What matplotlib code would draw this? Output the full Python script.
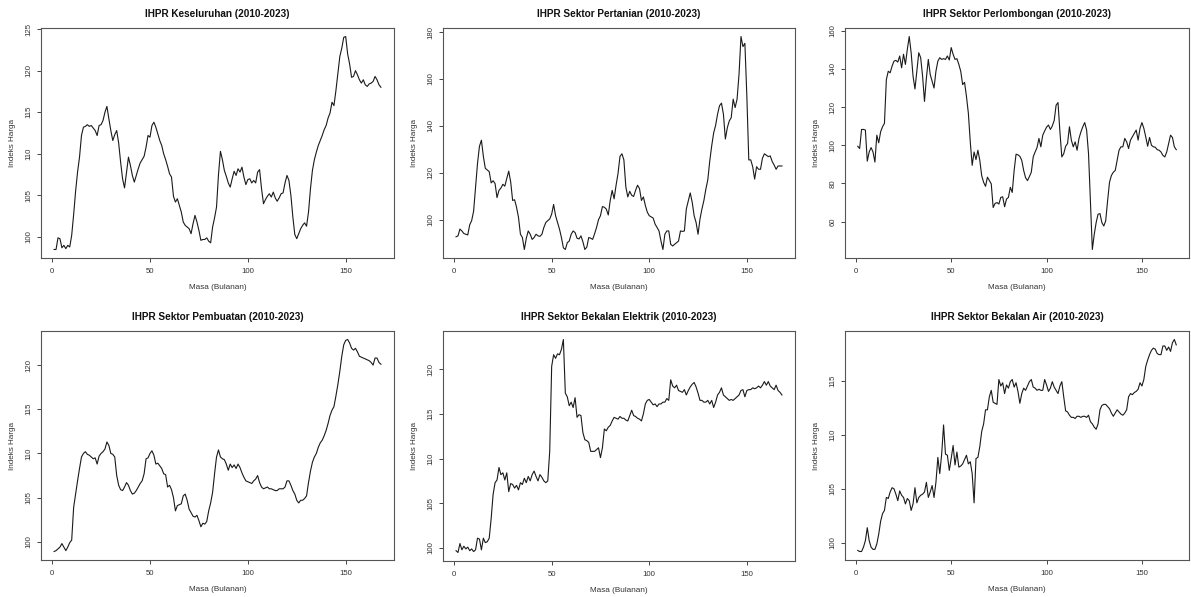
import numpy as np
import matplotlib
matplotlib.use("Agg")
import matplotlib.pyplot as plt
from matplotlib.ticker import MultipleLocator

plt.rcParams['font.family'] = ['Liberation Sans', 'DejaVu Sans']

# indeks bulan 1..168 (Jan 2010 - Dis 2023)
bulan = np.arange(1, 169)

keseluruhan = [
    98.5, 98.5, 99.9, 99.8, 98.7, 99.0, 98.6, 99.0, 98.8, 100.2, 102.7, 105.5,
    107.8, 109.6, 112.2, 113.2, 113.3, 113.5, 113.3, 113.4, 113.1, 112.8, 112.2, 113.4,
    113.5, 114.0, 115.0, 115.7, 114.2, 112.8, 111.6, 112.3, 112.8, 111.3, 109.0, 107.0,
    105.9, 107.8, 109.6, 108.6, 107.4, 106.6, 107.4, 108.2, 108.9, 109.3, 109.7, 110.8,
    112.2, 112.0, 113.4, 113.8, 113.2, 112.4, 111.6, 111.0, 110.0, 109.3, 108.5, 107.6,
    107.2, 104.9, 104.2, 104.6, 103.8, 103.0, 101.8, 101.4, 101.2, 101.0, 100.4, 101.6,
    102.6, 101.8, 100.8, 99.6, 99.7, 99.7, 99.9, 99.5, 99.3, 101.2, 102.3, 103.6,
    107.5, 110.3, 109.3, 108.0, 107.3, 106.5, 106.0, 107.0, 107.9, 107.4, 108.2, 107.8,
    108.4, 107.2, 106.3, 106.9, 107.0, 106.5, 106.8, 106.5, 107.8, 108.1, 105.8, 104.0,
    104.5, 104.9, 105.2, 104.8, 105.4, 104.7, 104.3, 104.7, 105.2, 105.3, 106.5, 107.4,
    106.8, 105.0, 102.4, 100.3, 99.8, 100.4, 101.0, 101.4, 101.7, 101.3, 103.0, 105.8,
    108.0, 109.3, 110.2, 111.0, 111.6, 112.2, 112.9, 113.4, 114.3, 114.9, 116.2, 115.8,
    117.6, 119.6, 121.7, 122.7, 124.0, 124.1, 122.0, 120.8, 119.2, 119.3, 120.0, 119.5,
    118.9, 118.5, 118.9, 118.3, 118.1, 118.4, 118.5, 118.7, 119.3, 118.9, 118.3, 118.0,
]

pertanian = [
    92.7, 93.1, 96.0, 95.2, 94.1, 93.8, 93.5, 97.8, 99.6, 103.6, 114.0, 124.0,
    131.3, 133.9, 127.0, 121.9, 121.2, 120.5, 115.7, 116.6, 115.4, 109.4, 112.5, 113.5,
    115.1, 114.3, 117.6, 120.7, 116.1, 108.2, 108.5, 105.3, 101.0, 93.8, 92.4, 87.3,
    92.1, 95.2, 93.8, 91.6, 92.4, 93.8, 93.1, 92.9, 93.8, 96.7, 98.8, 99.6,
    100.3, 102.4, 106.5, 101.7, 98.8, 96.0, 92.4, 88.0, 87.3, 90.2, 90.9, 93.8,
    95.2, 94.5, 92.1, 91.8, 93.1, 90.6, 87.3, 88.3, 92.4, 92.1, 91.6, 94.0,
    96.7, 100.0, 101.7, 105.6, 105.3, 104.5, 102.0, 108.2, 112.5, 108.9, 114.7, 119.7,
    127.0, 128.1, 125.5, 114.0, 109.7, 112.1, 110.4, 109.9, 112.5, 114.7, 113.3, 108.2,
    109.7, 106.1, 103.2, 101.7, 101.2, 100.7, 98.1, 96.7, 95.2, 90.9, 87.3, 93.8,
    95.2, 95.2, 89.5, 88.8, 89.5, 90.2, 90.9, 95.2, 95.0, 95.2, 104.6, 108.0,
    111.4, 107.5, 101.7, 98.8, 93.8, 100.3, 104.6, 108.2, 113.0, 117.0, 125.0, 131.5,
    137.0, 140.2, 145.0, 148.6, 149.7, 145.0, 134.4, 139.2, 142.1, 143.5, 151.4, 147.8,
    151.4, 162.0, 178.1, 173.8, 175.2, 152.9, 125.5, 125.5, 122.6, 117.3, 122.6, 121.5,
    121.5, 126.2, 128.1, 127.5, 126.9, 127.2, 124.8, 123.3, 121.5, 122.9, 122.9, 122.9,
]

perlombongan = [
    99.5, 98.3, 108.3, 108.3, 108.0, 91.7, 96.5, 98.8, 96.5, 91.2, 105.3, 101.3,
    107.1, 109.7, 111.5, 134.4, 138.8, 138.0, 141.5, 144.1, 144.5, 143.6, 146.8, 140.6,
    147.7, 142.4, 150.3, 157.0, 148.5, 136.2, 129.5, 138.8, 148.5, 145.9, 136.2, 123.0,
    135.3, 145.0, 137.1, 133.5, 130.0, 138.8, 144.1, 145.9, 145.0, 145.4, 145.0, 146.8,
    144.7, 151.2, 147.7, 145.0, 145.4, 142.4, 138.8, 131.8, 133.0, 125.6, 116.8, 101.8,
    89.5, 96.5, 92.5, 97.4, 92.1, 84.0, 80.6, 78.5, 83.3, 81.5, 79.8, 67.4,
    69.5, 70.0, 69.2, 72.7, 73.0, 67.8, 71.8, 72.7, 78.0, 75.3, 86.8, 95.3,
    95.0, 94.2, 92.1, 86.8, 83.0, 81.5, 83.6, 85.9, 93.9, 96.5, 98.8, 103.6,
    99.2, 105.3, 107.5, 109.5, 110.6, 108.3, 110.1, 113.0, 121.0, 122.4, 107.1, 93.9,
    95.6, 99.5, 100.9, 109.7, 102.7, 99.2, 101.8, 97.4, 103.6, 107.0, 109.7, 111.9,
    108.0, 95.6, 70.9, 45.4, 53.3, 59.5, 63.9, 64.2, 59.5, 57.7, 60.4, 70.9,
    80.6, 84.2, 85.9, 86.8, 92.1, 97.4, 99.2, 99.2, 103.6, 101.8, 98.3, 102.7,
    104.5, 106.2, 108.0, 102.7, 108.9, 111.9, 108.9, 104.4, 99.5, 104.1, 100.0, 99.2,
    99.0, 97.7, 97.4, 96.5, 94.7, 93.9, 96.5, 100.9, 105.3, 104.1, 99.2, 97.7,
]

pembuatan = [
    98.9, 99.0, 99.2, 99.4, 99.8, 99.4, 99.0, 99.4, 99.9, 100.2, 103.9, 105.4,
    106.9, 108.3, 109.6, 110.0, 110.2, 109.9, 109.8, 109.6, 109.4, 109.5, 108.8, 109.7,
    110.0, 110.2, 110.5, 111.3, 110.9, 110.0, 109.9, 109.6, 107.5, 106.4, 105.9, 105.8,
    106.2, 106.7, 106.4, 105.8, 105.4, 105.5, 105.8, 106.2, 106.6, 106.9, 107.7, 109.4,
    109.5, 110.0, 110.3, 109.8, 108.8, 108.9, 108.6, 108.3, 107.7, 107.6, 106.2, 106.4,
    105.9, 105.0, 103.5, 104.1, 104.2, 104.3, 105.2, 105.4, 104.7, 103.7, 103.3, 102.9,
    102.8, 103.0, 102.4, 101.7, 102.1, 102.0, 102.3, 103.5, 104.4, 105.6, 107.7, 109.6,
    110.4, 109.6, 109.4, 109.3, 108.8, 108.1, 108.8, 108.4, 108.7, 108.3, 108.8, 108.4,
    107.8, 107.3, 106.9, 106.8, 106.7, 106.6, 106.9, 107.1, 107.5, 106.7, 106.2, 106.0,
    106.1, 106.2, 106.0, 106.0, 105.9, 105.8, 105.8, 106.0, 106.0, 106.0, 106.2, 106.9,
    106.9, 106.4, 105.8, 105.4, 104.7, 104.4, 104.7, 104.7, 104.9, 105.2, 106.7, 108.0,
    109.0, 109.6, 110.0, 110.7, 111.2, 111.5, 112.0, 112.6, 113.4, 114.3, 114.9, 115.3,
    116.5, 117.8, 119.3, 121.0, 122.3, 122.8, 122.9, 122.5, 121.9, 121.7, 121.9, 121.5,
    121.0, 120.9, 120.8, 120.7, 120.6, 120.5, 120.3, 120.0, 120.8, 120.8, 120.3, 120.1,
]

elektrik = [
    99.7, 99.5, 100.5, 99.8, 100.2, 99.9, 100.1, 99.7, 99.9, 99.6, 99.8, 101.1,
    101.0, 99.8, 101.1, 100.6, 100.7, 101.1, 103.3, 106.0, 107.3, 107.6, 109.0, 108.2,
    108.4, 107.6, 108.4, 106.3, 107.2, 107.1, 106.7, 107.0, 106.5, 107.3, 107.1, 107.8,
    107.3, 108.0, 107.5, 108.2, 108.6, 108.0, 107.5, 108.2, 107.9, 107.5, 107.3, 107.5,
    110.8, 120.3, 121.6, 121.2, 121.7, 121.6, 122.2, 123.3, 117.3, 116.9, 115.9, 116.3,
    115.7, 116.8, 114.6, 114.9, 114.8, 112.9, 112.1, 112.0, 111.8, 110.8, 110.8, 110.8,
    111.0, 111.2, 110.1, 111.2, 113.3, 113.1, 113.5, 113.7, 114.2, 114.6, 114.5, 114.4,
    114.7, 114.5, 114.5, 114.3, 114.2, 114.8, 115.4, 114.8, 114.7, 114.5, 114.4, 114.2,
    115.0, 116.1, 116.5, 116.6, 116.3, 116.0, 116.1, 115.8, 116.1, 116.1, 116.3, 116.3,
    116.7, 116.5, 118.8, 118.1, 117.9, 118.2, 117.6, 117.5, 117.4, 117.7, 117.1, 117.6,
    118.0, 118.3, 118.5, 118.0, 117.3, 116.5, 116.5, 116.3, 116.3, 116.5, 116.1, 116.5,
    115.7, 116.3, 117.1, 117.4, 117.9, 117.1, 116.9, 116.7, 116.5, 116.6, 116.5, 116.7,
    116.9, 117.1, 117.6, 117.7, 116.9, 117.6, 117.7, 117.7, 117.9, 117.8, 117.9, 118.1,
    117.9, 118.2, 118.6, 118.2, 118.6, 118.1, 117.9, 117.7, 118.2, 117.6, 117.4, 117.1,
]

air = [
    99.3, 99.2, 99.2, 99.6, 100.2, 101.4, 100.2, 99.6, 99.4, 99.4, 99.9, 100.8,
    102.0, 102.7, 103.0, 104.2, 104.1, 104.7, 105.1, 105.0, 104.5, 103.9, 104.8, 104.4,
    104.2, 103.6, 104.1, 103.9, 103.0, 103.6, 105.1, 103.7, 104.2, 104.4, 104.5, 104.7,
    105.6, 104.2, 104.7, 105.3, 104.2, 105.6, 107.9, 106.4, 108.2, 110.9, 108.2, 108.1,
    106.7, 107.8, 109.0, 107.2, 108.4, 107.0, 107.1, 107.3, 107.7, 108.1, 107.3, 107.5,
    106.4, 103.7, 107.8, 107.9, 108.9, 110.3, 111.0, 112.3, 112.3, 113.5, 114.1, 113.0,
    112.9, 112.8, 115.1, 114.5, 114.8, 113.8, 114.6, 114.3, 114.9, 115.1, 114.4, 114.8,
    114.0, 112.9, 113.8, 114.3, 114.1, 114.5, 114.9, 115.1, 114.4, 114.3, 114.1, 114.2,
    114.1, 114.1, 115.1, 114.6, 114.0, 114.3, 114.9, 114.4, 114.1, 113.8, 114.5, 114.9,
    113.5, 112.2, 112.1, 111.8, 111.6, 111.6, 111.5, 111.7, 111.7, 111.6, 111.7, 111.7,
    111.6, 111.8, 111.2, 111.0, 110.7, 110.5, 111.0, 112.3, 112.7, 112.8, 112.8, 112.6,
    112.4, 112.0, 111.7, 112.0, 112.3, 112.1, 111.9, 111.8, 112.0, 112.3, 113.5, 113.8,
    113.7, 113.9, 114.0, 114.2, 114.8, 114.5, 115.1, 116.3, 116.9, 117.4, 117.8, 118.0,
    117.9, 117.5, 117.4, 117.4, 118.2, 118.2, 117.8, 118.1, 117.7, 118.5, 118.8, 118.3,
]

tajuk = [
    "IHPR Keseluruhan (2010-2023)",
    "IHPR Sektor Pertanian (2010-2023)",
    "IHPR Sektor Perlombongan (2010-2023)",
    "IHPR Sektor Pembuatan (2010-2023)",
    "IHPR Sektor Bekalan Elektrik (2010-2023)",
    "IHPR Sektor Bekalan Air (2010-2023)",
]
semua_siri = [keseluruhan, pertanian, perlombongan, pembuatan, elektrik, air]
langkah_y = [5, 20, 20, 5, 5, 5]

W, H = 1191, 597
fig = plt.figure(figsize=(W / 100, H / 100), dpi=100)

# kotak plot dalam piksel: kiri, atas, lebar, tinggi
kotak = [
    (41, 28, 353, 230), (443, 28, 352, 230), (845, 28, 344, 230),
    (41, 331, 353, 229), (443, 331, 352, 230), (845, 331, 344, 229),
]

warna_teks = '#333333'

for i, siri in enumerate(semua_siri):
    x0, y0, w, h = kotak[i]
    ax = fig.add_axes([x0 / W, 1 - (y0 + h) / H, w / W, h / H])
    ax.plot(bulan, siri, color='#1a1a1a', linewidth=0.8)
    ax.margins(x=0.04, y=0.04)

    ax.xaxis.set_major_locator(MultipleLocator(50))
    ax.yaxis.set_major_locator(MultipleLocator(langkah_y[i]))
    ax.tick_params(direction='out', length=3, width=0.7, colors='#444444',
                   labelsize=5.6, labelcolor=warna_teks, pad=4.5)
    ax.tick_params(axis='y', labelrotation=90, pad=3)
    for lab in ax.get_yticklabels():
        lab.set_va('center')

    for s in ax.spines.values():
        s.set_color('#555555')
        s.set_linewidth(0.8)

    ax.set_title(tajuk[i], fontsize=7.2, fontweight='bold', color='#111111', pad=8)
    ax.set_xlabel("Masa (Bulanan)", fontsize=5.9, color=warna_teks, labelpad=6)
    ax.set_ylabel("Indeks Harga", fontsize=5.9, color=warna_teks, labelpad=7)

plt.savefig("out.png", dpi=100)
